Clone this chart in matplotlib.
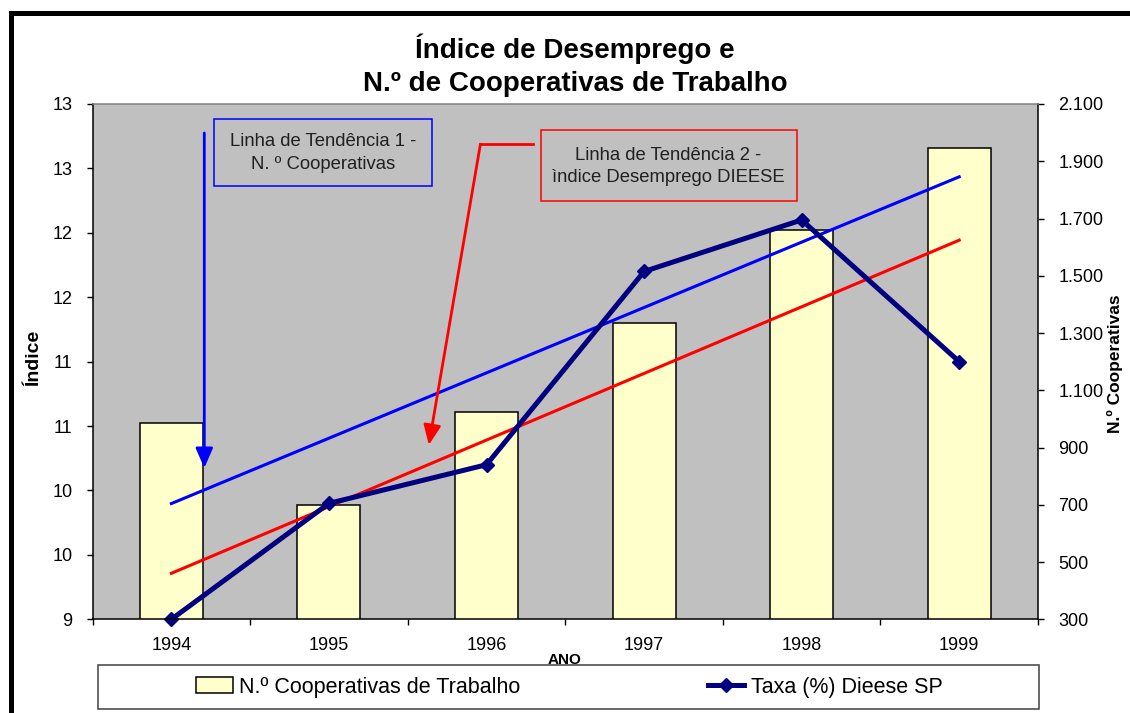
import numpy as np
import matplotlib
matplotlib.use("Agg")
import matplotlib.pyplot as plt
from matplotlib.patches import Rectangle, FancyArrowPatch
from matplotlib.lines import Line2D
from matplotlib.ticker import FuncFormatter

anos = ["1994", "1995", "1996", "1997", "1998", "1999"]
cooperativas = [985, 700, 1025, 1335, 1660, 1945]
taxa_dieese = [9.0, 9.9, 10.2, 11.7, 12.1, 11.0]

W, H = 1130, 713


def fxy(x, y):
    """pixel position (from top-left) -> figure fraction"""
    return x / W, 1 - y / H


plt.rcParams["font.family"] = ["Liberation Sans", "DejaVu Sans"]

fig = plt.figure(figsize=(W / 100, H / 100), dpi=100)
left, top, right, bottom = 92.6, 104, 1038, 619.3
ax = fig.add_axes([left / W, 1 - bottom / H, (right - left) / W, (bottom - top) / H])
ax2 = ax.twinx()

# bars + their trend on the secondary axis, drawn underneath
ax.set_zorder(ax2.get_zorder() + 1)
ax.patch.set_visible(False)
ax2.patch.set_visible(True)
ax2.patch.set_facecolor("#C0C0C0")

x = np.arange(len(anos))
bars = ax2.bar(x, cooperativas, width=0.4, color="#FFFFCC", edgecolor="black",
               linewidth=1.1, label="N.º Cooperativas de Trabalho")
coef_coop = np.polyfit(x, cooperativas, 1)
ends = x[[0, -1]]
ax2.plot(ends, np.polyval(coef_coop, ends), color="#0000FF", lw=2.2)

coef_taxa = np.polyfit(x, taxa_dieese, 1)
ax.plot(ends, np.polyval(coef_taxa, ends), color="#FF0000", lw=2.2)
line, = ax.plot(x, taxa_dieese, color="#000080", lw=3.6, marker="D", ms=7.5,
                clip_on=False, label="Taxa (%) Dieese SP")

ax.set_xlim(-0.5, len(anos) - 0.5)
ax.set_ylim(9, 13)
ax.set_yticks(np.arange(9, 13.01, 0.5))
ax.yaxis.set_major_formatter(FuncFormatter(lambda v, _: f"{int(np.floor(v + 0.5))}"))
ax.set_xticks(x)
ax.set_xticklabels(anos)
ax.set_xticks(np.arange(len(anos) + 1) - 0.5, minor=True)
ax.tick_params(axis="x", which="major", length=0, pad=12.5, labelsize=13)
ax.tick_params(axis="x", which="minor", length=4.3, width=1, direction="out")
ax.tick_params(axis="y", length=4.3, width=1, pad=10, labelsize=13)

ax2.set_ylim(300, 2100)
ax2.set_yticks(np.arange(300, 2101, 200))
ax2.yaxis.set_major_formatter(FuncFormatter(lambda v, _: f"{v:,.0f}".replace(",", ".")))
ax2.tick_params(axis="y", length=4.3, width=1, pad=10.5, labelsize=13)

for s in ax2.spines.values():
    s.set_visible(False)
for name in ["left", "bottom", "right"]:
    ax.spines[name].set_color("black")
    ax.spines[name].set_linewidth(1.1)
ax.spines["top"].set_color("#808080")
ax.spines["top"].set_linewidth(1.1)

# titles and axis labels
fig.text(*fxy(575, 58), "Índice de Desemprego e", ha="center", va="baseline",
         fontsize=20, fontweight="bold")
fig.text(*fxy(575, 90.7), "N.º de Cooperativas de Trabalho", ha="center", va="baseline",
         fontsize=20, fontweight="bold")
fig.text(*fxy(34, 358), "Índice", rotation=90, ha="center", va="center",
         fontsize=14, fontweight="bold")
fig.text(*fxy(1115, 364), "N.º Cooperativas", rotation=90, ha="center", va="center",
         fontsize=12.5, fontweight="bold")
fig.text(*fxy(565, 653), "ANO", ha="center", va="top", fontsize=11, fontweight="bold")

# legend box (covers the bottom of "ANO", as in the original)
fig.add_artist(Rectangle(fxy(98, 709), 941 / W, 44 / H, transform=fig.transFigure,
                         facecolor="white", edgecolor="#404040", lw=1.1, zorder=3.5))
fig.legend([bars, line], [bars.get_label(), line.get_label()], loc="center",
           bbox_to_anchor=fxy(569.5, 687), ncol=2, frameon=False, fontsize=15.5,
           handlelength=1.7, handletextpad=0.3, columnspacing=8.7)

# trend line call-outs
fig.add_artist(Rectangle(fxy(214, 186), 218 / W, 67 / H, transform=fig.transFigure,
                         facecolor="none", edgecolor="#0000FF", lw=1.1, zorder=4))
fig.text(*fxy(323, 153), "Linha de Tendência 1 -\nN. º Cooperativas", ha="center",
         va="center", fontsize=13.3, linespacing=1.45, color="#202020", zorder=4)
fig.add_artist(Rectangle(fxy(540.5, 201), 256.2 / W, 71 / H, transform=fig.transFigure,
                         facecolor="none", edgecolor="#FF0000", lw=1.1, zorder=4))
fig.text(*fxy(668.6, 166.5), "Linha de Tendência 2 -\nìndice Desemprego DIEESE", ha="center",
         va="center", fontsize=13.3, linespacing=1.45, color="#202020", zorder=4)

arrow_style = "-|>,head_length=0.8,head_width=0.35"
fig.add_artist(FancyArrowPatch(fxy(204.3, 133), fxy(204.3, 468), transform=fig.transFigure,
                               arrowstyle=arrow_style, mutation_scale=15, color="#0000FF",
                               lw=2, shrinkA=0, shrinkB=0, zorder=4))
p1, p2 = fxy(532.6, 144.3), fxy(480.4, 144.3)
fig.add_artist(Line2D([p1[0], p2[0]], [p1[1], p2[1]], transform=fig.transFigure,
                      color="#FF0000", lw=2, zorder=4))
fig.add_artist(FancyArrowPatch(p2, fxy(428.8, 445), transform=fig.transFigure,
                               arrowstyle=arrow_style, mutation_scale=15, color="#FF0000",
                               lw=2, shrinkA=0, shrinkB=0, zorder=4))

# thick chart border, cut off at the right and bottom edges
fig.add_artist(Rectangle(fxy(10.8, 2000), 3000 / W, (2000 - 13) / H, transform=fig.transFigure,
                         facecolor="none", edgecolor="black", lw=3.6, zorder=5))

fig.savefig("out.png", dpi=100)
